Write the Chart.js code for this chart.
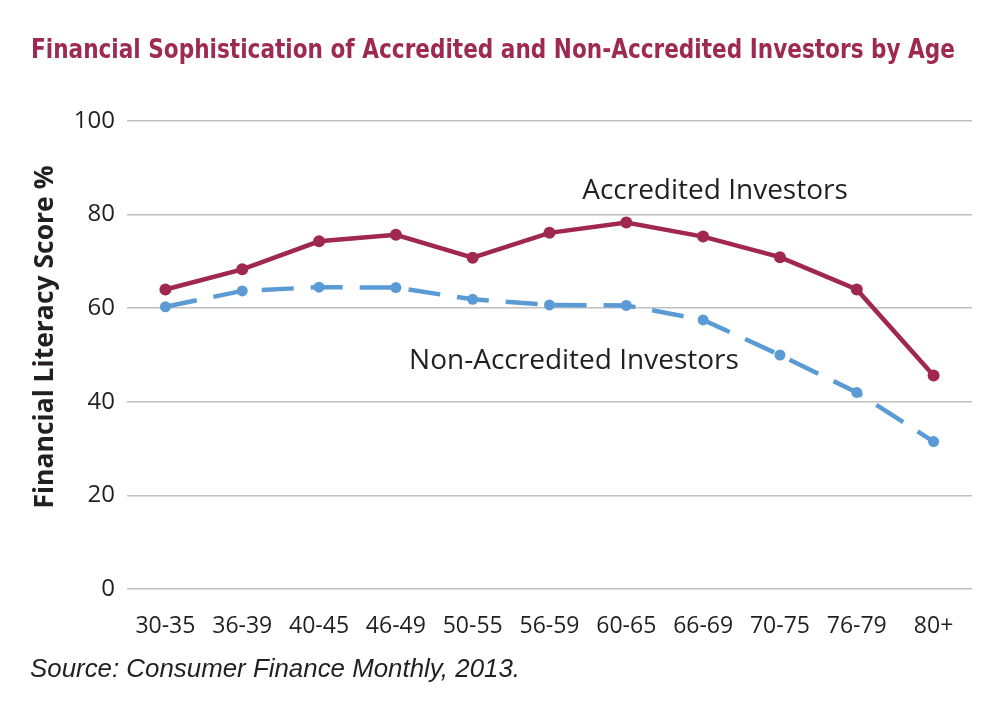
<!DOCTYPE html>
<html>
<head>
<meta charset="utf-8">
<script src="https://cdn.jsdelivr.net/npm/chart.js@4.4.1/dist/chart.umd.min.js"></script>
<style>
  html, body { margin: 0; padding: 0; background: #fff; }
  #wrap { width: 1000px; height: 706px; position: relative; }
</style>
</head>
<body>
<div id="wrap"><canvas id="chart"></canvas></div>
<script>
// age buckets along the x axis
var ageGroups = ['30-35', '36-39', '40-45', '46-49', '50-55', '56-59', '60-65', '66-69', '70-75', '76-79', '80+'];
// financial literacy score %
var accredited = [64.0, 68.3, 74.3, 75.7, 70.8, 76.1, 78.3, 75.3, 70.9, 64.0, 45.6];
var nonAccredited = [60.3, 63.7, 64.5, 64.4, 61.9, 60.7, 60.6, 57.5, 50.0, 42.0, 31.5];
var yMin = 0, yMax = 100, yStep = 20;

var titleText = 'Financial Sophistication of Accredited and Non-Accredited Investors by Age';
var yTitleText = 'Financial Literacy Score %';
var sourceText = 'Source: Consumer Finance Monthly, 2013.';

var maroon = '#a0284f';
var blue = '#5b9bd5';
var ink = '#231f20';

// draw text squeezed to a given width (no narrow font installed)
function fitText(ctx, text, x, y, width) {
    var w = ctx.measureText(text).width;
    ctx.save();
    ctx.translate(x, y);
    ctx.scale(Math.min(1, width / w), 1);
    ctx.fillText(text, 0, 0);
    ctx.restore();
}

// titles, series labels and the source line
var textLabels = {
    id: 'textLabels',
    afterDraw: function(chart) {
        var ctx = chart.ctx;
        ctx.save();

        ctx.fillStyle = '#9e2a52';
        ctx.font = "bold 27px 'Liberation Sans Narrow', 'DejaVu Sans Condensed', sans-serif";
        ctx.textAlign = 'left';
        ctx.textBaseline = 'alphabetic';
        fitText(ctx, titleText, 31, 58, 924);

        ctx.fillStyle = ink;
        ctx.textAlign = 'center';
        ctx.font = "28px 'Open Sans', sans-serif";
        ctx.fillText('Accredited Investors', 715, 199);
        ctx.fillText('Non-Accredited Investors', 574, 369);

        ctx.font = "italic 26px 'Liberation Sans', Arial, sans-serif";
        ctx.textAlign = 'left';
        fitText(ctx, sourceText, 30, 677, 490);

        ctx.translate(45, 337);
        ctx.rotate(-Math.PI / 2);
        ctx.textAlign = 'center';
        ctx.textBaseline = 'middle';
        ctx.font = "bold 26.5px 'Open Sans', sans-serif";
        ctx.fillText(yTitleText, 0, 0);
        ctx.restore();
    }
};

Chart.defaults.font.family = "'Open Sans', sans-serif";
Chart.defaults.color = ink;

var ctx = document.getElementById('chart').getContext('2d');
var myChart = new Chart(ctx, {
    type: 'line',
    data: {
        labels: ageGroups,
        datasets: [{
                label: 'Accredited Investors',
                data: accredited,
                borderColor: maroon,
                backgroundColor: maroon,
                borderWidth: 4.5,
                pointRadius: 6,
                pointBackgroundColor: maroon,
                pointBorderWidth: 0,
                tension: 0
            },
            {
                label: 'Non-Accredited Investors',
                data: nonAccredited,
                borderColor: blue,
                backgroundColor: blue,
                borderWidth: 4.5,
                borderDash: [32, 17],
                pointRadius: 5.5,
                pointBackgroundColor: blue,
                pointBorderWidth: 0,
                tension: 0
            }
        ]
    },
    options: {
        responsive: true,
        maintainAspectRatio: false,
        animation: false,
        layout: {
            padding: { top: 121, right: 28, bottom: 0, left: 0 }
        },
        scales: {
            x: {
                offset: true,
                grid: { display: false },
                border: { display: false },
                ticks: {
                    padding: 16,
                    maxRotation: 0,
                    autoSkip: false,
                    font: { size: 23 }
                },
                afterFit: function(scale) { scale.height = 117; }
            },
            y: {
                min: yMin,
                max: yMax,
                grid: {
                    color: '#c0c0c0',
                    lineWidth: 1.5,
                    drawTicks: false
                },
                border: { display: false },
                ticks: {
                    stepSize: yStep,
                    padding: 12,
                    font: { size: 24 }
                },
                afterFit: function(scale) { scale.width = 127; }
            }
        },
        plugins: {
            legend: { display: false },
            tooltip: { enabled: false }
        }
    },
    plugins: [textLabels]
});
</script>
</body>
</html>
